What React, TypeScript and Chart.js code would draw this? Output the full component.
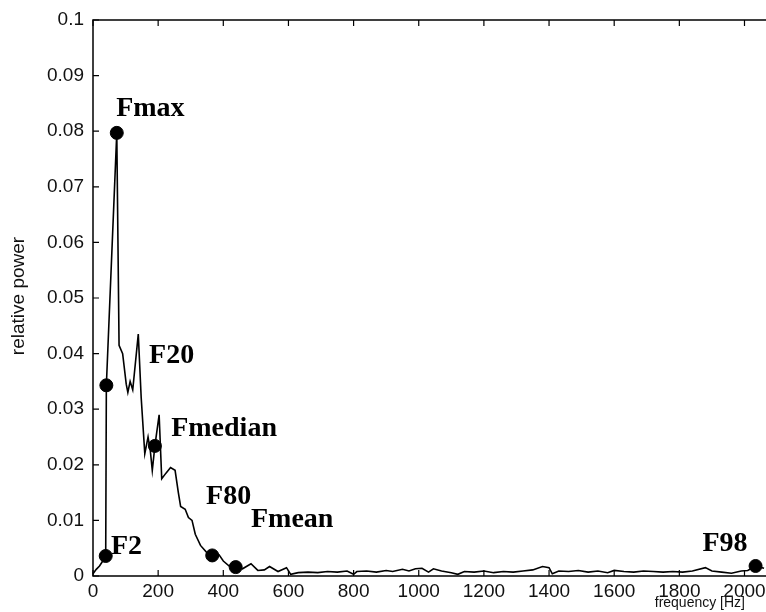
import React, { useEffect, useRef } from "react";
import { Chart, registerables } from "chart.js";

Chart.register(...registerables);

// spectrum (frequency in Hz, relative power)
const freqHz = [
  0, 10, 20, 30, 39, 41, 73, 80, 91, 102, 107, 114, 122, 139, 148, 159, 169, 176, 182, 190,
  203, 211, 224, 238, 252, 262, 269, 283, 293, 304, 314, 330, 348, 366, 387, 400, 418, 438,
  459, 485, 506, 526, 542, 568, 594, 607, 630, 660, 690, 720, 750, 780, 800, 810, 840, 870,
  900, 920, 950, 970, 990, 1010, 1030, 1045, 1070, 1100, 1120, 1140, 1170, 1200, 1230, 1260,
  1290, 1320, 1350, 1380, 1400, 1410, 1430, 1460, 1490, 1520, 1550, 1580, 1600, 1630, 1660,
  1690, 1720, 1750, 1780, 1810, 1840, 1880, 1900, 1930, 1960, 1990, 2010, 2034, 2060, 2070,
];
const relPower = [
  0.0004, 0.0012, 0.0018, 0.0027, 0.0036, 0.0343, 0.0797, 0.0415, 0.04, 0.0345, 0.033, 0.035,
  0.0335, 0.0435, 0.032, 0.022, 0.025, 0.0225, 0.019, 0.0234, 0.029, 0.0175, 0.0185, 0.0195,
  0.019, 0.015, 0.0125, 0.012, 0.0105, 0.01, 0.0075, 0.0055, 0.0043, 0.0037, 0.0038, 0.0027,
  0.0018, 0.0016, 0.0013, 0.0022, 0.001, 0.0011, 0.0017, 0.0008, 0.0015, 0.0003, 0.0006,
  0.0007, 0.0006, 0.0008, 0.0007, 0.0009, 0.0003, 0.0008, 0.0009, 0.0007, 0.001, 0.0008,
  0.0012, 0.0009, 0.0013, 0.0014, 0.0007, 0.0013, 0.0009, 0.0006, 0.0003, 0.0008, 0.0007,
  0.0009, 0.0006, 0.0008, 0.0007, 0.0009, 0.0011, 0.0017, 0.0015, 0.0004, 0.0009, 0.0008,
  0.001, 0.0007, 0.0009, 0.0006, 0.001, 0.0008, 0.0007, 0.0009, 0.0008, 0.0007, 0.0008,
  0.0007, 0.0009, 0.0015, 0.0009, 0.0007, 0.0005, 0.0009, 0.001, 0.0018, 0.0014, 0.0012,
];

// characteristic frequency markers
const markerFreq = [41, 73, 39, 190, 366, 438, 2034];
const markerPower = [0.0343, 0.0797, 0.0036, 0.0234, 0.0037, 0.0016, 0.0018];

// annotation texts and their anchor (data coordinates)
const labelNames = ["Fmax", "F20", "Fmedian", "F80", "Fmean", "F2", "F98"];
const labelFreq = [71, 172, 240, 347, 485, 55, 1871];
const labelPower = [0.0841, 0.0396, 0.0265, 0.0142, 0.0102, 0.0052, 0.0058];

const xTickValues = [0, 200, 400, 600, 800, 1000, 1200, 1400, 1600, 1800, 2000];
const yTickValues = [0, 0.01, 0.02, 0.03, 0.04, 0.05, 0.06, 0.07, 0.08, 0.09, 0.1];
const xMax = 2043;
const yMax = 0.1;

const framePlugin = {
  id: "frameAndLabels",
  afterDraw(chart: any) {
    const { ctx, chartArea, width } = chart;
    const xs = chart.scales.x;
    const ys = chart.scales.y;
    ctx.save();
    ctx.strokeStyle = "#000";
    ctx.lineWidth = 1.5;
    ctx.beginPath();
    ctx.moveTo(width, chartArea.top);
    ctx.lineTo(chartArea.left, chartArea.top);
    ctx.lineTo(chartArea.left, chartArea.bottom);
    ctx.lineTo(width, chartArea.bottom);
    ctx.stroke();
    ctx.lineWidth = 1.2;
    ctx.beginPath();
    xTickValues.forEach((v) => {
      const px = xs.getPixelForValue(v);
      ctx.moveTo(px, chartArea.bottom);
      ctx.lineTo(px, chartArea.bottom - 6);
      ctx.moveTo(px, chartArea.top);
      ctx.lineTo(px, chartArea.top + 6);
    });
    yTickValues.forEach((v) => {
      const py = ys.getPixelForValue(v);
      ctx.moveTo(chartArea.left, py);
      ctx.lineTo(chartArea.left + 6, py);
    });
    ctx.stroke();

    ctx.fillStyle = "#000";
    ctx.font = 'bold 28px "Liberation Serif", "Times New Roman", serif';
    ctx.textAlign = "left";
    ctx.textBaseline = "middle";
    labelNames.forEach((name, i) => {
      ctx.fillText(name, xs.getPixelForValue(labelFreq[i]), ys.getPixelForValue(labelPower[i]));
    });

    ctx.fillStyle = "#111";
    ctx.font = '14px "Liberation Sans", Arial, sans-serif';
    ctx.textAlign = "right";
    ctx.textBaseline = "middle";
    ctx.fillText("frequency [Hz]", 745, 603);

    ctx.font = '19px "Liberation Sans", Arial, sans-serif';
    ctx.translate(19, 296);
    ctx.rotate(-Math.PI / 2);
    ctx.textAlign = "center";
    ctx.fillText("relative power", 0, 0);
    ctx.restore();
  },
};

export default function App() {
  const ref = useRef<HTMLCanvasElement | null>(null);
  useEffect(() => {
    document.body.style.margin = "0";
    const canvas = ref.current;
    if (!canvas) return;
    const chart = new Chart(canvas, {
      type: "line",
      data: {
        datasets: [
          {
            type: "scatter",
            label: "markers",
            data: markerFreq.map((f, i) => ({ x: f, y: markerPower[i] })),
            backgroundColor: "#000",
            borderColor: "#000",
            pointRadius: 6.5,
            pointHoverRadius: 6.5,
            showLine: false,
            clip: false,
            order: 0,
          } as any,
          {
            type: "line",
            label: "spectrum",
            data: freqHz.map((f, i) => ({ x: f, y: relPower[i] })),
            borderColor: "#000",
            borderWidth: 1.6,
            pointRadius: 0,
            tension: 0,
            fill: false,
            clip: false,
            order: 1,
          } as any,
        ],
      },
      options: {
        animation: false,
        responsive: false,
        devicePixelRatio: 1,
        events: [],
        layout: { padding: { top: 20, right: 0, left: 0, bottom: 0 } },
        plugins: { legend: { display: false }, tooltip: { enabled: false } },
        scales: {
          x: {
            type: "linear",
            min: 0,
            max: xMax,
            grid: { display: false, drawTicks: false },
            border: { display: false },
            afterBuildTicks: (scale: any) => {
              scale.ticks = xTickValues.map((v) => ({ value: v }));
            },
            afterFit: (scale: any) => {
              scale.height = 36;
              scale.paddingRight = 0;
              scale.paddingLeft = 0;
            },
            ticks: {
              color: "#111",
              font: { family: '"Liberation Sans", Arial, sans-serif', size: 19 },
              padding: 4,
              maxRotation: 0,
              autoSkip: false,
              callback: (v: any) => String(v),
            },
          },
          y: {
            type: "linear",
            min: 0,
            max: yMax,
            grid: { display: false, drawTicks: false },
            border: { display: false },
            afterBuildTicks: (scale: any) => {
              scale.ticks = yTickValues.map((v) => ({ value: v }));
            },
            afterFit: (scale: any) => {
              scale.width = 93;
              scale.paddingTop = 0;
              scale.paddingBottom = 0;
            },
            ticks: {
              color: "#111",
              font: { family: '"Liberation Sans", Arial, sans-serif', size: 19 },
              padding: 9,
              autoSkip: false,
              callback: (v: any) => String(Math.round(Number(v) * 100) / 100),
            },
          },
        },
      },
      plugins: [framePlugin],
    });
    return () => chart.destroy();
  }, []);
  return (
    <div style={{ position: "absolute", left: 0, top: 0, width: 766, height: 612, background: "#fff" }}>
      <canvas ref={ref} width={766} height={612} style={{ display: "block" }} />
    </div>
  );
}
